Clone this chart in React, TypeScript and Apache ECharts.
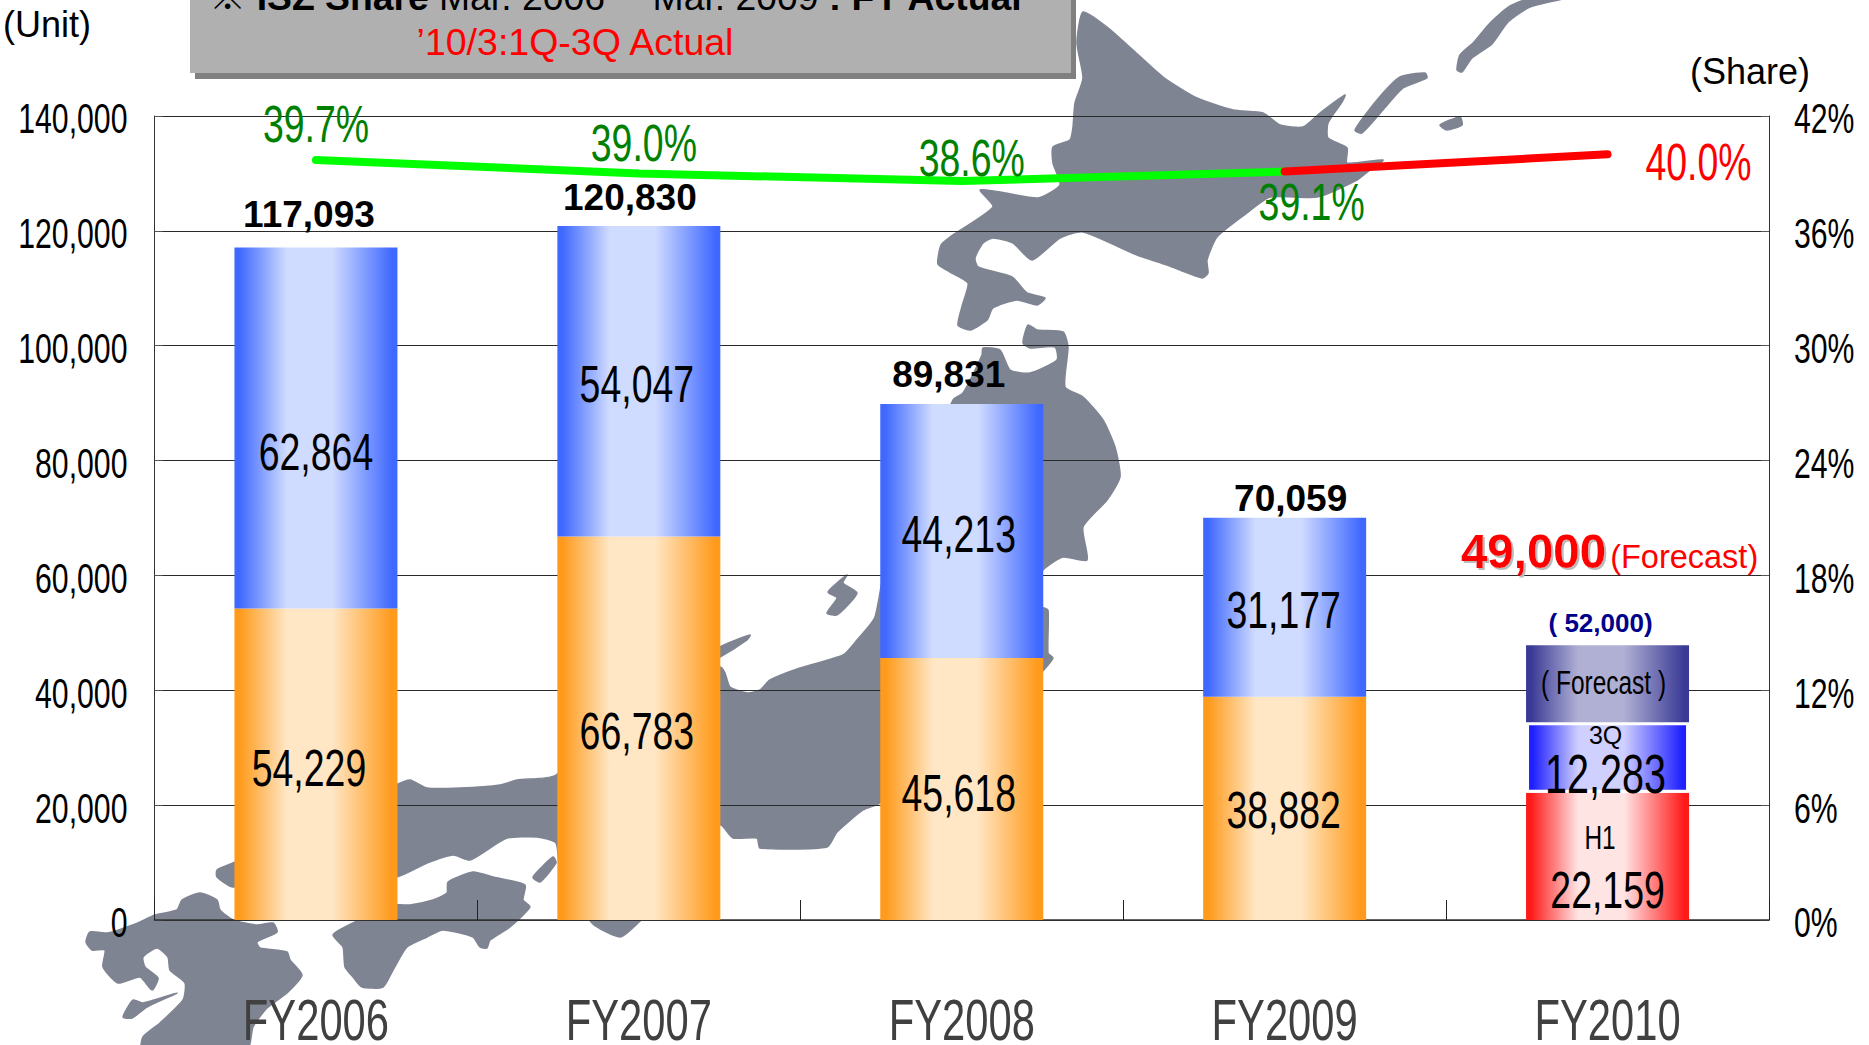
import React, { useEffect, useRef } from "react";
import * as echarts from "echarts";

const categories = ["FY2006", "FY2007", "FY2008", "FY2009", "FY2010"];
const lowerValues = [54229, 66783, 45618, 38882, null];
const upperValues = [62864, 54047, 44213, 31177, null];
const h1Values = [null, null, null, null, 22159];
const q3Values = [null, null, null, null, 12283];
const forecastRemainder = [null, null, null, null, 13400];
const totals = [117093, 120830, 89831, 70059, 49000];
const previousForecast = [null, null, null, null, 52000];
const shareActual = [39.7, 39.0, 38.6, 39.1, null];
const shareLatest = [null, null, null, 39.1, 40.0];

const lowerOffsets = [[-7, 4], [-2, 3], [-3, 4], [-1, 2]];
const upperOffsets = [[0, 24], [-2, 3], [-3, 3], [-1, 3]];
const totalOffsets = [[-7, -33], [-9, -29], [-13, -30], [6, -19], [2, -87]];
const shareOffsets = [[0, -36], [5, -30], [10, -23], [27, 31]];
const latestOffsets = [null, null, null, null, [91, 8]];

const NARROW = '"Liberation Sans Narrow","Liberation Sans",sans-serif';
const SANS = '"Liberation Sans","Noto Sans CJK JP",sans-serif';
const SQUEEZE = 0.72;
const MAP_COLOR = "#7f8492";

const mapShapes = [
  // Hokkaido
  [[1083,12],[1107,27],[1133,50],[1163,77],[1197,98],[1233,110],[1263,113],[1280,125],[1303,127],[1320,113],[1345,95],[1342,102],[1328,123],[1328,138],[1347,148],[1347,163],[1383,160],[1370,170],[1357,180],[1317,197],[1270,197],[1247,213],[1217,237],[1207,260],[1208,273],[1202,278],[1167,265],[1137,255],[1083,232],[1060,238],[1032,260],[1013,243],[993,238],[983,243],[975,258],[978,267],[1012,277],[1027,293],[1045,298],[1037,305],[1017,300],[993,308],[987,320],[970,330],[958,325],[963,303],[968,283],[950,272],[938,264],[941,245],[950,237],[993,207],[980,190],[1000,192],[1038,198],[1060,185],[1053,163],[1053,147],[1070,140],[1073,127],[1075,103],[1083,78],[1077,43]],
  // Kuril chain
  [[1355,130],[1377,100],[1400,77],[1425,73],[1427,78],[1403,88],[1383,110],[1362,133]],
  [[1440,125],[1460,117],[1462,125],[1447,130]],
  [[1457,70],[1460,55],[1474,42],[1490,23],[1510,6],[1535,-3],[1570,-3],[1530,7],[1508,22],[1492,44],[1472,58],[1462,72]],
  // Honshu
  [[1028,325],[1037,330],[1063,332],[1068,347],[1065,387],[1083,397],[1103,420],[1115,447],[1120,477],[1107,500],[1083,527],[1087,560],[1063,557],[1043,570],[1035,590],[1042,607],[1048,610],[1048,653],[1053,658],[1042,672],[1000,720],[880,803],[863,810],[837,832],[827,847],[760,848],[757,838],[733,838],[720,825],[680,880],[638,923],[620,937],[592,923],[560,870],[556,843],[537,837],[507,838],[490,848],[470,860],[453,855],[427,863],[396,877],[300,880],[233,887],[217,877],[217,870],[233,863],[396,785],[410,780],[427,788],[460,788],[500,785],[517,780],[556,775],[640,690],[720,667],[725,673],[730,687],[748,693],[760,690],[770,680],[800,668],[843,655],[857,640],[875,617],[890,540],[953,400],[963,393],[982,355],[983,348],[1000,350],[1010,370],[1030,373],[1057,360],[1055,347],[1030,348],[1023,343]],
  // Noto, Sado, Awaji
  [[720,647],[750,635],[747,640],[720,657],[700,665]],
  [[847,575],[828,592],[837,598],[827,613],[837,615],[857,593],[843,583]],
  [[533,877],[553,857],[556,863],[540,882]],
  // Shikoku
  [[333,935],[353,923],[396,905],[410,905],[433,900],[447,893],[448,882],[473,872],[493,877],[525,885],[523,900],[530,907],[510,927],[490,940],[487,948],[480,947],[473,937],[443,930],[427,937],[407,947],[393,970],[383,987],[362,987],[353,977],[345,967],[343,947]],
  // Kyushu
  [[155,915],[177,910],[182,900],[200,893],[217,900],[220,910],[233,920],[257,925],[273,923],[277,932],[257,942],[260,948],[287,952],[290,960],[302,975],[287,993],[267,1008],[253,1027],[247,1050],[142,1050],[143,1037],[160,1023],[183,1000],[185,983],[170,970],[168,957],[157,948],[143,957],[145,967],[158,978],[152,990],[140,977],[118,983],[103,967],[105,950],[92,950],[86,942],[90,932],[108,933],[127,927],[138,923]],
  [[123,1017],[133,1000],[143,1003],[177,993],[147,1007],[132,1018]],
];

const grad = (edge: string, mid: string) =>
  new echarts.graphic.LinearGradient(0, 0, 1, 0, [
    { offset: 0, color: edge },
    { offset: 0.03, color: edge },
    { offset: 0.32, color: mid },
    { offset: 0.6, color: mid },
    { offset: 0.97, color: edge },
    { offset: 1, color: edge },
  ]);

const fmt = (v: number) => v.toLocaleString("en-US");

// No condensed face is installed, so the texts set in NARROW are squeezed horizontally about their anchor.
function squeezeNarrowTexts(root: HTMLElement) {
  root.querySelectorAll("svg text").forEach((el) => {
    const style = el.getAttribute("style") || "";
    if (!style.includes("Narrow")) return;
    const t = el.getAttribute("transform") || "";
    if (t.includes("scale(")) return;
    const x = parseFloat(el.getAttribute("x") || "0");
    el.setAttribute("transform", `${t} translate(${x},0) scale(${SQUEEZE},1) translate(${-x},0)`.trim());
  });
}

export default function App() {
  const ref = useRef<HTMLDivElement>(null);
  useEffect(() => {
    const chart = echarts.init(ref.current!, undefined, { renderer: "svg" });
    const barBase = { type: "bar", stack: "units", barWidth: 163, xAxisIndex: 0, yAxisIndex: 0, z: 2 };
    const valueLabel = {
      show: true,
      position: "inside",
      fontFamily: NARROW,
      fontSize: 52,
      color: "#000",
      formatter: (p: any) => fmt(p.value),
    };
    const withOffset = (vals: (number | null)[], offs: number[][]) =>
      vals.map((v, i) => (v == null ? null : { value: v, label: { offset: offs[i] } }));
    const hiddenLine = { type: "line", yAxisIndex: 0, symbol: "circle", symbolSize: 1, itemStyle: { color: "transparent" }, lineStyle: { width: 0, opacity: 0 }, z: 6 };

    chart.setOption({
      animation: false,
      backgroundColor: "#fff",
      grid: { left: 154.5, right: 100, top: 116, bottom: 125, containLabel: false, outerBoundsMode: "none" },
      xAxis: {
        type: "category",
        data: categories,
        boundaryGap: true,
        axisLine: { show: true, lineStyle: { color: "#333", width: 1.5 } },
        axisTick: { show: true, inside: true, length: 20, lineStyle: { color: "#222", width: 1 } },
        axisLabel: { fontFamily: NARROW, fontSize: 58, color: "#404040", margin: 71 },
        z: 1,
      },
      yAxis: [
        {
          type: "value",
          min: 0,
          max: 140000,
          interval: 20000,
          axisLine: { show: true, lineStyle: { color: "#333", width: 1 } },
          axisTick: { show: true, inside: true, length: 8, lineStyle: { color: "#555", width: 1 } },
          splitLine: { show: true, lineStyle: { color: "#2a2a2a", width: 1 } },
          axisLabel: { fontFamily: NARROW, fontSize: 42, color: "#000", margin: 27, verticalAlign: "top", lineHeight: 6, formatter: (v: number) => fmt(v) },
        },
        {
          type: "value",
          min: 0,
          max: 42,
          interval: 6,
          axisLine: { show: true, lineStyle: { color: "#333", width: 1 } },
          axisTick: { show: true, inside: true, length: 8, lineStyle: { color: "#555", width: 1 } },
          splitLine: { show: false },
          axisLabel: { fontFamily: NARROW, fontSize: 42, color: "#000", margin: 25, verticalAlign: "top", lineHeight: 6, formatter: (v: number) => `${v}%` },
        },
      ],
      series: [
        { ...barBase, name: "Lower", data: withOffset(lowerValues, lowerOffsets), itemStyle: { color: grad("#ff9a1a", "#ffe6c4") }, label: valueLabel },
        { ...barBase, name: "Upper", data: withOffset(upperValues, upperOffsets), itemStyle: { color: grad("#3f68ff", "#cfdbff") }, label: valueLabel },
        {
          ...barBase,
          name: "H1",
          data: h1Values,
          itemStyle: { color: grad("#ff1a1a", "#ffe4e4") },
          label: {
            ...valueLabel,
            offset: [0, 8],
            formatter: (p: any) => `{a|H1}\n{b|${fmt(p.value)}}`,
            rich: {
              a: { fontFamily: NARROW, fontSize: 34, color: "#000", lineHeight: 52, padding: [0, 15, 0, 0] },
              b: { fontFamily: NARROW, fontSize: 52, color: "#000", lineHeight: 54 },
            },
          },
        },
        {
          ...barBase,
          name: "3Q",
          data: q3Values,
          itemStyle: { color: grad("#1f1fff", "#d0d0ff"), borderColor: "#fff", borderWidth: 3 },
          label: {
            ...valueLabel,
            offset: [-2, 3],
            formatter: (p: any) => `{a|3Q}\n{b|${fmt(p.value)}}`,
            rich: {
              a: { fontFamily: SANS, fontSize: 25, color: "#000", lineHeight: 28 },
              b: { fontFamily: NARROW, fontSize: 55, color: "#000", lineHeight: 50 },
            },
          },
        },
        {
          ...barBase,
          name: "Forecast",
          data: forecastRemainder,
          itemStyle: { color: grad("#3a3a96", "#b0b0d4") },
          label: { show: true, position: "inside", fontFamily: NARROW, fontSize: 34, color: "#000", offset: [-4, -2], formatter: "( Forecast )" },
        },
        {
          ...hiddenLine,
          name: "Total",
          data: totals.map((v, i) => ({ value: v, label: { offset: totalOffsets[i] } })),
          label: {
            show: true,
            position: "inside",
            fontFamily: SANS,
            fontSize: 37,
            fontWeight: "bold",
            color: "#000",
            formatter: (p: any) =>
              p.dataIndex === 4 ? `{a|${fmt(p.value)}}{b|(Forecast)}` : fmt(p.value),
            rich: {
              a: { fontFamily: SANS, fontSize: 47.5, fontWeight: "bold", color: "#f00", textShadowColor: "#bbb", textShadowOffsetX: 2, textShadowOffsetY: 2, textShadowBlur: 1 },
              b: { fontFamily: SANS, fontSize: 32.5, fontWeight: "normal", color: "#f00", padding: [10, 0, 0, 4] },
            },
          },
        },
        {
          ...hiddenLine,
          name: "Previous forecast",
          data: previousForecast,
          label: {
            show: true,
            position: "inside",
            offset: [-7, 2],
            fontFamily: SANS,
            fontSize: 26,
            fontWeight: "bold",
            color: "#00008b",
            textShadowColor: "#bbb",
            textShadowOffsetX: 1,
            textShadowOffsetY: 1,
            formatter: (p: any) => `( ${fmt(p.value)})`,
          },
        },
        {
          type: "line",
          name: "Share",
          yAxisIndex: 1,
          symbol: "circle",
          symbolSize: 1,
          itemStyle: { color: "#00ff00" },
          lineStyle: { color: "#00ff00", width: 8, cap: "round" },
          data: shareActual.map((v, i) => (v == null ? null : { value: v, label: { offset: shareOffsets[i] } })),
          label: { show: true, position: "inside", fontFamily: NARROW, fontSize: 52, color: "#008000", formatter: (p: any) => `${p.value.toFixed(1)}%` },
          z: 7,
        },
        {
          type: "line",
          name: "Share latest",
          yAxisIndex: 1,
          symbol: "circle",
          symbolSize: 1,
          itemStyle: { color: "#ff0000" },
          lineStyle: { color: "#ff0000", width: 8, cap: "round" },
          data: shareLatest.map((v, i) => (v == null ? null : { value: v, label: latestOffsets[i] ? { show: true, offset: latestOffsets[i] } : { show: false } })),
          label: { position: "inside", fontFamily: NARROW, fontSize: 52, color: "#ff0000", formatter: (p: any) => `${p.value.toFixed(1)}%` },
          z: 8,
        },
      ],
      graphic: [
        ...mapShapes.map((pts) => ({
          type: "polygon",
          z: -1,
          silent: true,
          shape: { points: pts, smooth: 0.2 },
          style: { fill: MAP_COLOR, stroke: MAP_COLOR, lineWidth: 1.5, lineJoin: "round" },
        })),
        { type: "rect", z: 20, silent: true, shape: { x: 195, y: -10, width: 881, height: 89 }, style: { fill: "#808080" } },
        { type: "rect", z: 21, silent: true, shape: { x: 190, y: -10, width: 881, height: 83 }, style: { fill: "#b0b0b0" } },
        {
          type: "text",
          z: 22,
          x: 209,
          y: 16,
          silent: true,
          style: {
            text: "{b|※ ISZ Share}{r| Mar. 2006 ・Mar. 2009 }{b|: FY Actual}",
            textVerticalAlign: "bottom",
            rich: {
              b: { fontFamily: SANS, fontSize: 37.3, fontWeight: "bold", fill: "#000" },
              r: { fontFamily: SANS, fontSize: 37.3, fill: "#000" },
            },
          },
        },
        { type: "text", z: 22, x: 575, y: 42, silent: true, style: { text: "’10/3:1Q-3Q Actual", fontFamily: SANS, fontSize: 37.5, fill: "#f00", textAlign: "center", textVerticalAlign: "middle" } },
        { type: "text", z: 22, x: 47, y: 24, silent: true, style: { text: "(Unit)", fontFamily: SANS, fontSize: 36, fill: "#000", textAlign: "center", textVerticalAlign: "middle" } },
        { type: "text", z: 22, x: 1750, y: 71, silent: true, style: { text: "(Share)", fontFamily: SANS, fontSize: 36, fill: "#000", textAlign: "center", textVerticalAlign: "middle" } },
      ],
    });
    const el = ref.current!;
    squeezeNarrowTexts(el);
    chart.on("finished", () => squeezeNarrowTexts(el));
    return () => chart.dispose();
  }, []);
  return <div ref={ref} style={{ position: "fixed", left: 0, top: 0, width: 1869, height: 1045 }} />;
}
